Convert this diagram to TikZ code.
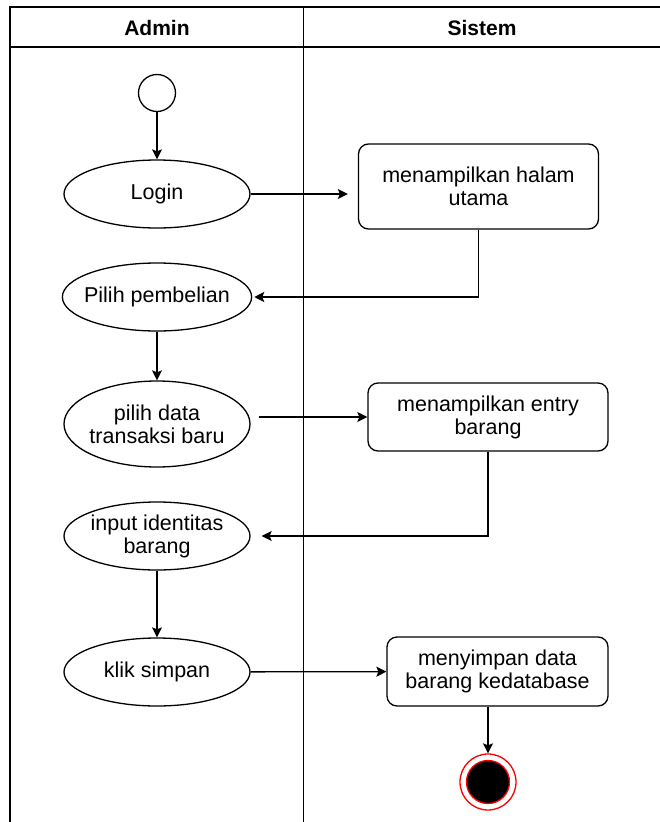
\documentclass[tikz,border=0pt]{standalone}
\usepackage{fontspec}
\setmainfont{Liberation Sans}
\usetikzlibrary{positioning}
\usetikzlibrary{calc}
\usetikzlibrary{arrows.meta}
\usetikzlibrary{shapes}
\tikzset{
  pics/end_state/.style args={#1,#2}{
     code={
       \node[circle, draw=#2, line width=1.3pt, minimum size=56pt, inner sep=0pt] (#1) at (0,0) {};
       \node[circle, fill=black, draw=#2, line width=1.3pt, minimum size=43pt, inner sep=0pt] at (0,0) {};
     }
  },
  >={Stealth[length=10pt, width=10pt, inset=2pt]}
}

\begin{document}
\begin{tikzpicture}
    [x=1pt, y=-1pt,
    activity/.style={ellipse, draw, line width=1.3pt, minimum width=186pt, minimum height=68pt, inner xsep=-6pt, inner ysep=0pt, align=center},
    action/.style={rectangle, rounded corners=10pt, draw, line width=1.3pt, minimum width=240pt, minimum height=68pt, align=center},
    startstate/.style={circle, draw, line width=1.3pt, minimum size=37pt, inner sep=0pt},
    lane/.style={line width=1.3pt},
    flow/.style={->, line width=1.3pt},
    font=\fontsize{21.5}{23}\selectfont]
    \useasboundingbox (0,0) rectangle (660,822);
    % swimlanes
    \draw[lane] (660,7) -- (10,7) -- (10,822);
    \draw[lane] (10,47) -- (660,47);
    \draw[lane] (303.5,7) -- (303.5,822);
    \node[font=\bfseries\fontsize{21}{24}\selectfont] (admin) at (157,28) {Admin};
    \node[font=\bfseries\fontsize{21}{24}\selectfont] (sistem) at (482,28) {Sistem};
    % admin lane
    \node[startstate] (start) at (157,93) {};
    \node[activity] (login) at (157,194) {Login};
    \node[activity] (pilih) at (157,297) {Pilih pembelian};
    \node[activity, minimum height=86pt] (data) at (157,424) {pilih data\\transaksi baru};
    \node[activity] (input) at (157,536) {input identitas\\barang};
    \node[activity] (klik) at (157,672) {klik simpan};
    % sistem lane
    \node[action, minimum height=85pt] (tampil) at (478.5,186.5) {menampilkan halam\\utama};
    \node[action] (entry) at (488,417) {menampilkan entry\\barang};
    \node[action, minimum width=221pt, minimum height=69pt] (simpan) at (497.5,671.5) {menyimpan data\\barang kedatabase};
    \pic at (488,782) {end_state={akhir,red}};
    % flows
    \draw[flow] (start) -- (login);
    \draw[flow, shorten >=10pt] (login.east) -- (login.east -| tampil.west);
    \draw[flow, shorten >=2pt] (tampil.south) |- (pilih.east);
    \draw[flow] (pilih) -- (data);
    \draw[flow, shorten <=8pt] (entry.west -| data.east) -- (entry.west);
    \draw[flow, shorten >=11pt] (entry.south) |- (input.east);
    \draw[flow] (input) -- (klik);
    \draw[flow] (klik) -- (simpan);
    \draw[flow] (simpan.south -| akhir) -- (akhir);
\end{tikzpicture}
\end{document}
